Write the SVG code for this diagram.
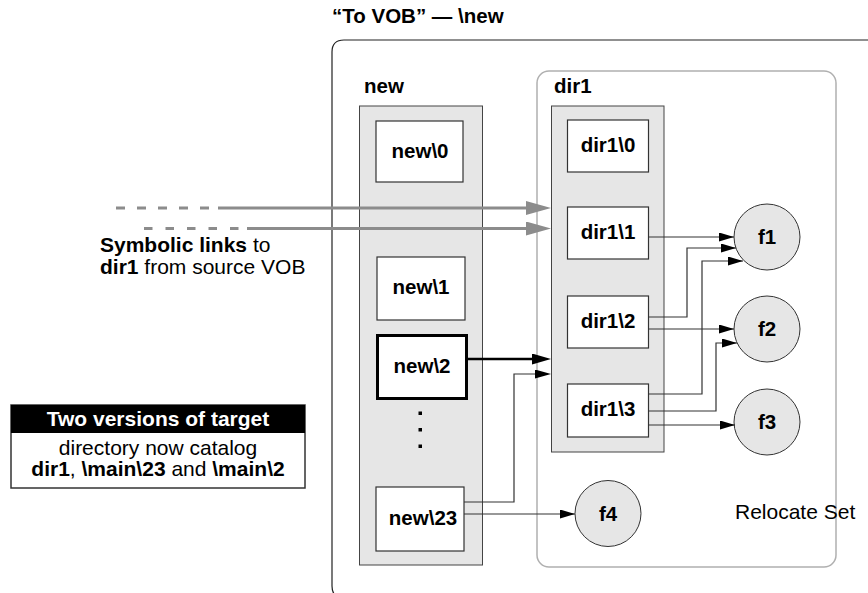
<svg xmlns="http://www.w3.org/2000/svg" width="868" height="593" viewBox="0 0 868 593">
<style>
text{font-family:"Liberation Sans",Arial,Helvetica,sans-serif;fill:#000}
.lbl{font-size:20.5px;font-weight:bold;text-anchor:middle}
.hd{font-size:20.5px;font-weight:bold}
.box{fill:#fff;stroke:#333;stroke-width:1.2}
.col{fill:#e6e6e6;stroke:#444;stroke-width:1}
.circ{fill:#e6e6e6;stroke:#333;stroke-width:1}
.conn{fill:none;stroke:#333;stroke-width:1.2;marker-end:url(#ah)}
.gray{fill:none;stroke:#8c8c8c;stroke-width:3}
.txt{font-size:21px}
b,.b{font-weight:bold}
</style>
<defs>
<marker id="ah" markerUnits="userSpaceOnUse" markerWidth="16" markerHeight="10" refX="15" refY="4.5" orient="auto"><path d="M0,0 L15,4.5 L0,9 z" fill="#000"/></marker>
<marker id="ah2" markerUnits="userSpaceOnUse" markerWidth="17" markerHeight="10" refX="0" refY="4.5" orient="auto"><path d="M0,0 L16,4.5 L0,9 z" fill="#000"/></marker>
<marker id="bh" markerUnits="userSpaceOnUse" markerWidth="20" markerHeight="12" refX="0" refY="5.5" orient="auto"><path d="M0,0 L19,5.5 L0,11 z" fill="#000"/></marker>
<marker id="gh" markerUnits="userSpaceOnUse" markerWidth="26" markerHeight="14" refX="0" refY="7" orient="auto"><path d="M0,0 L25,7 L0,14 z" fill="#8c8c8c"/></marker>
</defs>
<rect width="868" height="593" fill="#fff"/>

<g id="title"><text class="hd" x="332" y="23">“To VOB” — \new</text></g>

<g id="vob">
<path d="M868 40 H344 Q332 40 332 52 V586 Q332 598 344 598" fill="none" stroke="#222" stroke-width="1.2"/>
</g>

<g id="relocate-set">
<rect x="537" y="71" width="299" height="496" rx="12" fill="none" stroke="#b0b0b0" stroke-width="1.5"/>
<text class="txt" x="735" y="519">Relocate Set</text>
</g>

<g id="new">
<text class="hd" x="364" y="93">new</text>
<rect class="col" x="359.5" y="106" width="123" height="459"/>
<rect x="418.5" y="411.5" width="3.5" height="3.5" fill="#000"/>
<rect x="418.5" y="428" width="3.5" height="3.5" fill="#000"/>
<rect x="418.5" y="444.5" width="3.5" height="3.5" fill="#000"/>
</g>

<g id="dir1">
<text class="hd" x="554" y="93">dir1</text>
<rect class="col" x="551.5" y="106" width="112.5" height="346"/>
</g>

<g id="new0"><rect class="box" x="376" y="121" width="87" height="61"/><text class="lbl" x="420" y="158">new\0</text></g>
<g id="new1"><rect class="box" x="377" y="257" width="88" height="63"/><text class="lbl" x="421" y="294">new\1</text></g>
<g id="new2"><rect x="377.5" y="335.5" width="89" height="63" fill="#fff" stroke="#000" stroke-width="3"/><text class="lbl" x="422" y="373">new\2</text></g>
<g id="new23"><rect class="box" x="376" y="487" width="88" height="64"/><text class="lbl" x="423" y="525">new\23</text></g>

<g id="dir1-0"><rect class="box" x="567.5" y="120" width="81" height="52"/><text class="lbl" x="608" y="152">dir1\0</text></g>
<g id="dir1-1"><rect class="box" x="567.5" y="207" width="81" height="52"/><text class="lbl" x="608" y="239">dir1\1</text></g>
<g id="dir1-2"><rect class="box" x="567.5" y="296" width="81" height="52"/><text class="lbl" x="608" y="328">dir1\2</text></g>
<g id="dir1-3"><rect class="box" x="567.5" y="384" width="81" height="53"/><text class="lbl" x="608" y="416">dir1\3</text></g>

<g id="f1"><circle class="circ" cx="767" cy="237" r="33"/><text class="lbl" x="767" y="244">f1</text></g>
<g id="f2"><circle class="circ" cx="767" cy="329" r="33"/><text class="lbl" x="767" y="336">f2</text></g>
<g id="f3"><circle class="circ" cx="767" cy="422" r="33"/><text class="lbl" x="767" y="429">f3</text></g>
<g id="f4"><circle class="circ" cx="608" cy="513.5" r="33"/><text class="lbl" x="608" y="520.5">f4</text></g>

<g id="symlink-label">
<text class="txt" x="100" y="252"><tspan font-weight="bold">Symbolic links</tspan> to</text>
<text class="txt" x="100" y="274"><tspan font-weight="bold">dir1</tspan> from source VOB</text>
</g>

<g id="legend">
<rect x="11" y="405" width="294" height="83" fill="#fff" stroke="#333" stroke-width="1.5"/>
<rect x="11" y="405" width="294" height="28" fill="#000"/>
<text class="txt" x="158" y="426" font-weight="bold" text-anchor="middle" style="fill:#fff">Two versions of target</text>
<text class="txt" x="158" y="455" text-anchor="middle">directory now catalog</text>
<text class="txt" x="158" y="476" text-anchor="middle"><tspan font-weight="bold">dir1</tspan>, <tspan font-weight="bold">\main\23</tspan> and <tspan font-weight="bold">\main\2</tspan></text>
</g>

<g id="connectors">
<path class="gray" d="M116 208 H218" stroke-dasharray="9 12"/>
<path class="gray" d="M218 208 H526" marker-end="url(#gh)"/>
<path class="gray" d="M144 228.5 H247" stroke-dasharray="8.5 13"/>
<path class="gray" d="M247 228.5 H526" marker-end="url(#gh)"/>
<path d="M467 359 H532" fill="none" stroke="#000" stroke-width="2.5" marker-end="url(#bh)"/>
<path d="M464 502 H514 V374 H535" fill="none" stroke="#333" stroke-width="1.2" marker-end="url(#ah2)"/>
<path class="conn" d="M464 514 H575"/>
<path class="conn" d="M648 237 H734"/>
<path class="conn" d="M648 317 H687 V248 H736"/>
<path class="conn" d="M648 329 H734"/>
<path class="conn" d="M648 394 H702 V261 H743"/>
<path class="conn" d="M648 411 H716 V343 H737"/>
<path class="conn" d="M648 425 H735"/>
</g>
</svg>
